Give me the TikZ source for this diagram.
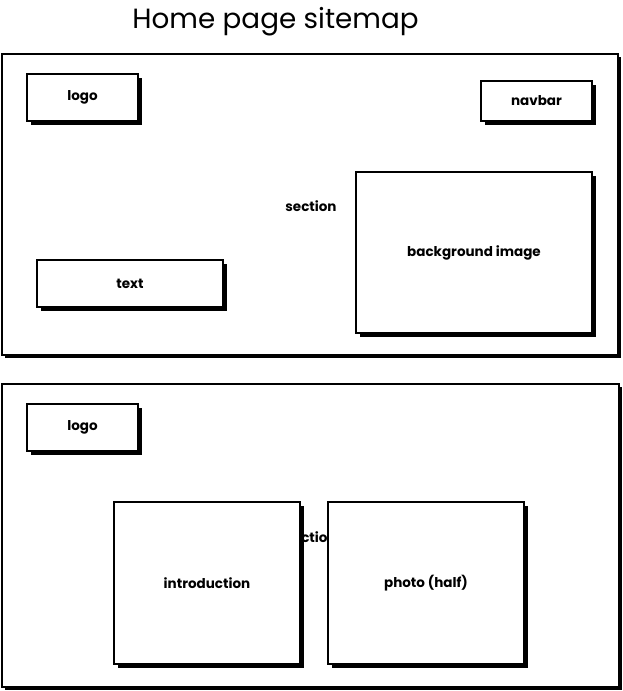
\documentclass[tikz,border=0pt]{standalone}
\usepackage{fontspec}
\setmainfont{Poppins}
\usetikzlibrary{shadows}

\begin{document}
\begin{tikzpicture}[x=1pt, y=-1pt,
  panel/.style={draw, line width=1.6pt, fill=white, inner sep=0pt,
    drop shadow={shadow xshift=3pt, shadow yshift=-3pt, fill=black, opacity=1}},
  wbox/.style={draw, line width=1.3pt, fill=white, inner sep=0pt,
    font=\bfseries\fontsize{13.5}{15}\selectfont,
    drop shadow={shadow xshift=3.5pt, shadow yshift=-3.5pt, fill=black, opacity=1}},
  lbl/.style={font=\bfseries\fontsize{13.5}{15}\selectfont, inner sep=0pt}]
\useasboundingbox (0,0) rectangle (623,691);
\node[font=\fontsize{27.8}{30}\selectfont, anchor=base] (title) at (275.5,28) {Home page sitemap};
% first section
\node[panel, minimum width=616pt, minimum height=301pt] (home) at (310,204.5) {};
\node[lbl] (section1) at (311,206) {section};
\node[wbox, minimum width=111pt, minimum height=47pt] (logo1) at (82.5,97.5) {logo};
\node[wbox, minimum width=111pt, minimum height=40pt] (navbar) at (536.5,101) {navbar};
\node[wbox, minimum width=236pt, minimum height=161pt] (bgimage) at (474,252.5) {background image};
\node[wbox, minimum width=186pt, minimum height=47pt] (text) at (130,283.5) {text};
% second section
\node[panel, minimum width=617pt, minimum height=303pt] (about) at (310.5,535.5) {};
\node[lbl] (section2) at (311,537) {section};
\node[wbox, minimum width=111pt, minimum height=47pt] (logo2) at (82.5,427.5) {logo};
\node[wbox, minimum width=186pt, minimum height=162pt] (intro) at (207,583) {introduction};
\node[wbox, minimum width=196pt, minimum height=162pt] (photo) at (426,583) {photo (half)};
\end{tikzpicture}
\end{document}
